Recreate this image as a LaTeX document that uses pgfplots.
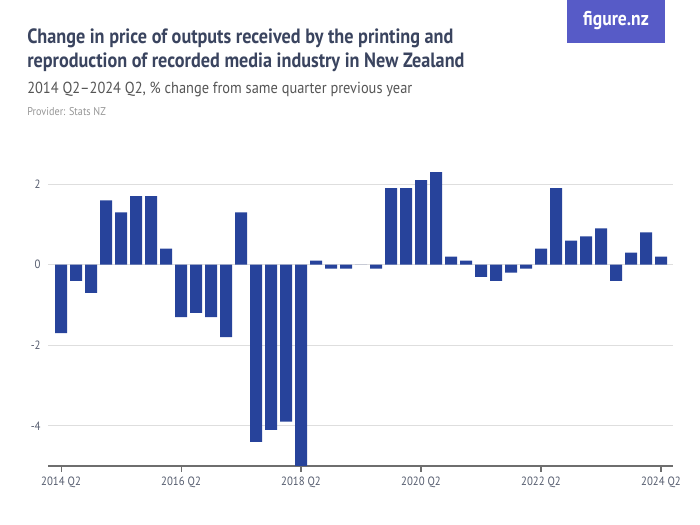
\documentclass[border=0pt]{standalone}
\usepackage{fontspec}
\setmainfont{PT Sans}
\newfontfamily\titlefont[FakeStretch=0.88]{PT Sans}
\newfontfamily\subfont[FakeStretch=0.9]{PT Sans}
\usepackage{pgfplots}
\usepackage{pgfplotstable}
\pgfplotsset{compat=1.18}
\definecolor{barblue}{RGB}{39,67,155}
\definecolor{titlecol}{RGB}{58,68,95}
\definecolor{subcol}{RGB}{85,85,85}
\definecolor{provcol}{RGB}{150,150,150}
\definecolor{tickcol}{RGB}{85,92,110}
\definecolor{gridcol}{RGB}{222,222,222}
\definecolor{axiscol}{RGB}{110,110,110}
\definecolor{logocol}{RGB}{87,91,199}
\pgfplotstableread{
x y
0 -1.7
1 -0.4
2 -0.7
3 1.6
4 1.3
5 1.7
6 1.7
7 0.4
8 -1.3
9 -1.2
10 -1.3
11 -1.8
12 1.3
13 -4.4
14 -4.1
15 -3.9
16 -5.0
17 0.1
18 -0.1
19 -0.1
20 0.0
21 -0.1
22 1.9
23 1.9
24 2.1
25 2.3
26 0.2
27 0.1
28 -0.3
29 -0.4
30 -0.2
31 -0.1
32 0.4
33 1.9
34 0.6
35 0.7
36 0.9
37 -0.4
38 0.3
39 0.8
40 0.2
}\datatable
\begin{document}
\begin{tikzpicture}[x=0.75pt,y=0.75pt]
\path[use as bounding box] (0,0) rectangle (700,525);
\coordinate (axpos) at (48,59);
% logo
\fill[logocol] (567,525) rectangle (665,482);
\node[text=white, font=\titlefont\bfseries\fontsize{15}{17}\selectfont] at (616,504) {figure.nz};
% titles
\node[anchor=base west, inner sep=0pt, text=titlecol, font=\titlefont\bfseries\fontsize{15.5}{18}\selectfont] at (27,481) {Change in price of outputs received by the printing and};
\node[anchor=base west, inner sep=0pt, text=titlecol, font=\titlefont\bfseries\fontsize{15.5}{18}\selectfont] at (27,457) {reproduction of recorded media industry in New Zealand};
\node[anchor=base west, inner sep=0pt, text=subcol, font=\subfont\fontsize{12}{14}\selectfont] at (27,431) {2014 Q2–2024 Q2, \% change from same quarter previous year};
\node[anchor=base west, inner sep=0pt, text=provcol, font=\subfont\fontsize{8.5}{10}\selectfont] at (27,409) {Provider: Stats NZ};
\begin{axis}[
  scale only axis, width=468.75pt, height=229.5pt,
  at={(axpos)}, anchor=south west,
  xmin=-0.87, xmax=40.8, ymin=-5, ymax=2.6,
  axis x line*=bottom, axis y line*=left,
  y axis line style={draw=none},
  x axis line style={axiscol, line width=0.9pt},
  ytick={-4,-2,0,2}, yticklabels={-4,-2,0,2},
  ymajorgrids, grid style={gridcol, line width=0.9pt},
  ytick style={draw=none},
  xtick={0,8,16,24,32,40},
  xticklabels={2014 Q2,2016 Q2,2018 Q2,2020 Q2,2022 Q2,2024 Q2},
  xtick align=outside, xtick style={axiscol, line width=0.8pt},
  major tick length=4.5pt,
  tick label style={font=\subfont\fontsize{9}{10}\selectfont, text=tickcol},
  yticklabel style={xshift=-2pt},
  clip=true,
]
\addplot[ybar, bar width=0.8, fill=barblue, draw=none] table[x=x,y=y]{\datatable};
\end{axis}
\end{tikzpicture}
\end{document}
